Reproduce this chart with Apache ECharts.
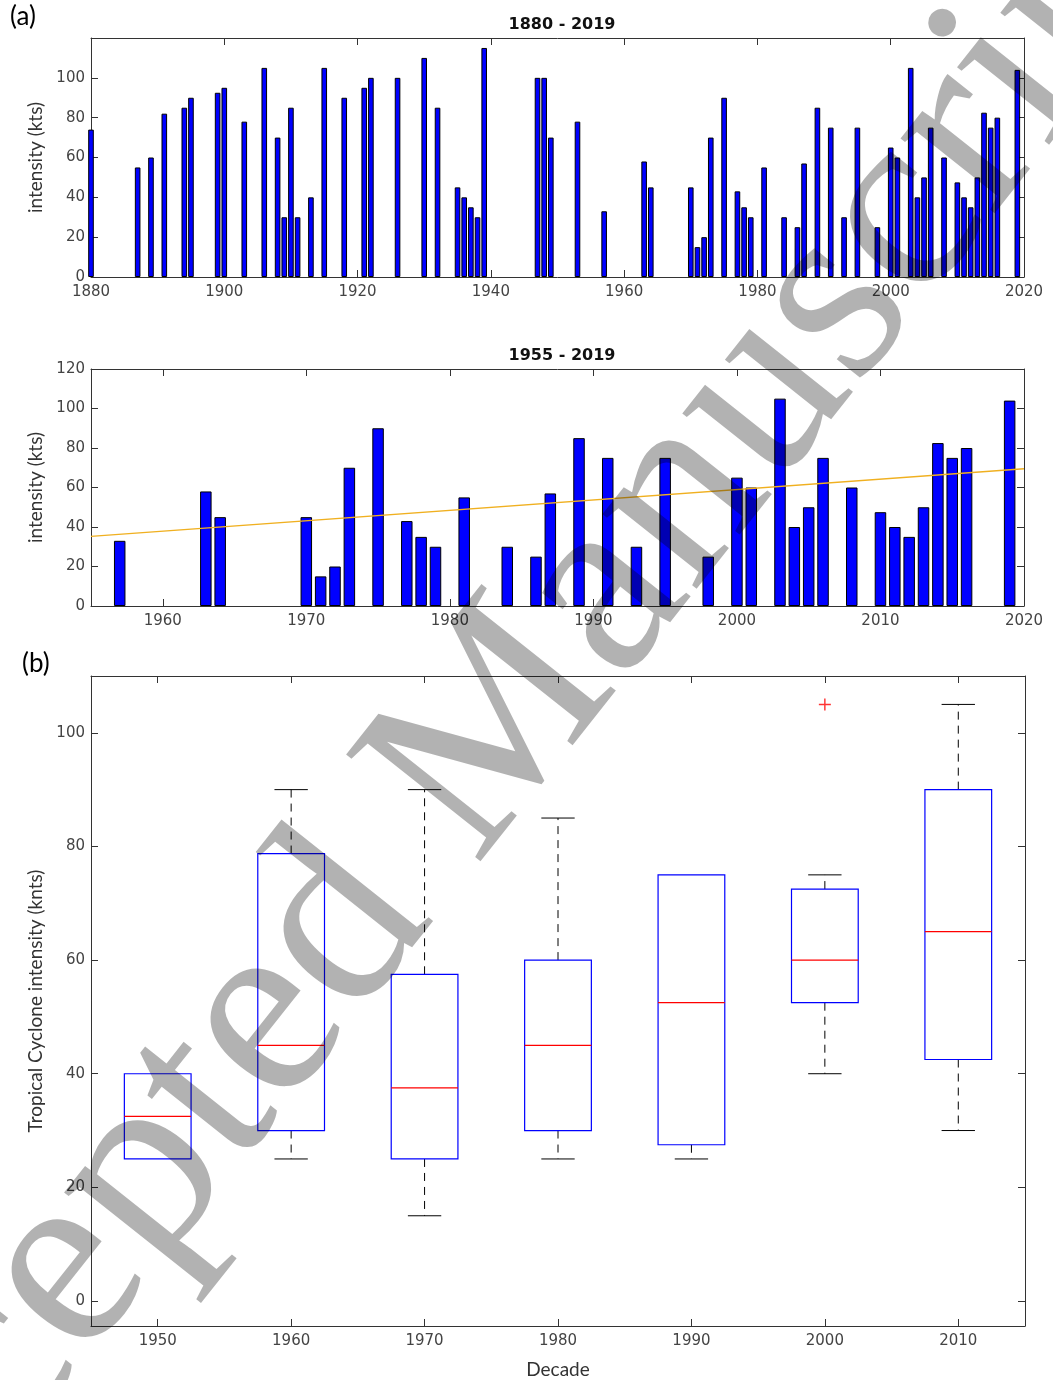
<!DOCTYPE html>
<html>
<head>
<meta charset="utf-8">
<script src="https://cdn.jsdelivr.net/npm/echarts@6/dist/echarts.min.js"></script>
<style>
  html, body { margin: 0; padding: 0; background: #fff; }
  #chart { width: 1053px; height: 1380px; }
</style>
</head>
<body>
<div id="chart"></div>
<script>
// storm years and peak intensity (kts)
var years = [1880, 1887, 1889, 1891, 1894, 1895, 1899, 1900, 1903, 1906, 1908, 1909, 1910, 1911, 1913, 1915, 1918, 1921, 1922, 1926,
  1930, 1932, 1935, 1936, 1937, 1938, 1939, 1947, 1948, 1949, 1953, 1957, 1963, 1964, 1970, 1971, 1972, 1973, 1975,
  1977, 1978, 1979, 1981, 1984, 1986, 1987, 1989, 1991, 1993, 1995, 1998, 2000, 2001, 2003, 2004, 2005, 2006, 2008,
  2010, 2011, 2012, 2013, 2014, 2015, 2016, 2019];
var intensity = [74, 55, 60, 82, 85, 90, 92.5, 95, 78, 105, 70, 30, 85, 30, 40, 105, 90, 95, 100, 100,
  110, 85, 45, 40, 35, 30, 115, 100, 100, 70, 78, 33, 58, 45, 45, 15, 20, 70, 90,
  43, 35, 30, 55, 30, 25, 57, 85, 75, 30, 75, 25, 65, 60, 105, 40, 50, 75, 60,
  47.5, 40, 35, 50, 82.5, 75, 80, 104];
var recentStart = 1955;

// linear trend 1955 - 2019
var trendYears = [1955, 2020];
var trendValues = [35.3, 69.5];

// decade box plot: [low whisker, q1, median, q3, high whisker]
var decades = ['1950', '1960', '1970', '1980', '1990', '2000', '2010'];
var boxStats = [
  [25, 25, 32.5, 40, 40],
  [25, 30, 45, 78.75, 90],
  [15, 25, 37.5, 57.5, 90],
  [25, 30, 45, 60, 85],
  [25, 27.5, 52.5, 75, 75],
  [40, 52.5, 60, 72.5, 75],
  [30, 42.5, 65, 90, 105]
];
var outliers = [['2000', 105]];

var midTicks = [1960, 1970, 1980, 1990, 2000, 2010, 2020];
var boxTicks = [0, 20, 40, 60, 80, 100];

var allBars = years.map(function (y, i) { return [y, intensity[i]]; });
var recentBars = allBars.filter(function (d) { return d[0] >= recentStart; });
var trendData = trendYears.map(function (y, i) { return [y, trendValues[i]]; });
var boxData = boxStats.map(function (s, i) { return [i].concat(s); });

var tickFont = 'DejaVu Sans';
var nameFont = 'Lato';
var axisColor = '#333';
var labelColor = '#444';
var plain = function (v) { return String(v); };

function xAx(grid, opts) {
  var a = {
    gridIndex: grid,
    type: 'value',
    axisLine: { show: true, onZero: false, lineStyle: { color: axisColor, width: 1 } },
    axisTick: { show: true, inside: true, length: 7, lineStyle: { color: axisColor } },
    axisLabel: { color: labelColor, fontFamily: tickFont, fontSize: 15, margin: 8, formatter: plain },
    splitLine: { show: false }
  };
  return Object.assign(a, opts);
}
function yAx(grid, opts) {
  var a = {
    gridIndex: grid,
    type: 'value',
    axisLine: { show: true, onZero: false, lineStyle: { color: axisColor, width: 1 } },
    axisTick: { show: true, inside: true, length: 7, lineStyle: { color: axisColor } },
    axisLabel: { color: labelColor, fontFamily: tickFont, fontSize: 15, margin: 6, formatter: plain },
    splitLine: { show: false },
    nameTextStyle: { color: '#333', fontFamily: nameFont, fontSize: 19 }
  };
  return Object.assign(a, opts);
}

var chart = echarts.init(document.getElementById('chart'));
var option = {
  backgroundColor: '#fff',
  animation: false,
  title: [
    { text: '1880 - 2019', left: 557, top: 12, textAlign: 'center',
      textStyle: { fontFamily: tickFont, fontWeight: 'bold', fontSize: 16, color: '#111' } },
    { text: '1955 - 2019', left: 557, top: 343, textAlign: 'center',
      textStyle: { fontFamily: tickFont, fontWeight: 'bold', fontSize: 16, color: '#111' } }
  ],
  grid: [
    { left: 91, right: 29, top: 38, height: 239 },
    { left: 91, right: 29, top: 369, height: 237 },
    { left: 91, right: 28, top: 676, height: 654 }
  ],
  xAxis: [
    xAx(0, { min: 1880, max: 2020, interval: 20 }),
    xAx(0, { min: 1880, max: 2020, interval: 20, position: 'top', axisLabel: { show: false } }),
    xAx(1, { min: 1955, max: 2020,
      axisTick: { show: true, inside: true, length: 7, lineStyle: { color: axisColor }, customValues: midTicks },
      axisLabel: { color: labelColor, fontFamily: tickFont, fontSize: 15, margin: 8, formatter: plain, customValues: midTicks } }),
    xAx(1, { min: 1955, max: 2020, position: 'top',
      axisTick: { show: true, inside: true, length: 7, lineStyle: { color: axisColor }, customValues: midTicks },
      axisLabel: { show: false } }),
    xAx(2, { type: 'category', data: decades, boundaryGap: true,
      axisTick: { show: true, inside: true, length: 7, alignWithLabel: true, lineStyle: { color: axisColor } },
      name: 'Decade', nameLocation: 'middle', nameGap: 34,
      nameTextStyle: { color: '#333', fontFamily: nameFont, fontSize: 19 } }),
    xAx(2, { type: 'category', data: decades, boundaryGap: true, position: 'top',
      axisTick: { show: true, inside: true, length: 7, alignWithLabel: true, lineStyle: { color: axisColor } },
      axisLabel: { show: false } })
  ],
  yAxis: [
    yAx(0, { min: 0, max: 120, interval: 20, name: 'intensity (kts)', nameLocation: 'middle', nameGap: 42,
      axisLabel: { color: labelColor, fontFamily: tickFont, fontSize: 15, margin: 6, formatter: plain, showMaxLabel: false } }),
    yAx(0, { min: 0, max: 120, interval: 20, position: 'right', axisLabel: { show: false } }),
    yAx(1, { min: 0, max: 120, interval: 20, name: 'intensity (kts)', nameLocation: 'middle', nameGap: 42 }),
    yAx(1, { min: 0, max: 120, interval: 20, position: 'right', axisLabel: { show: false } }),
    yAx(2, { min: -4.4, max: 110, name: 'Tropical Cyclone intensity (knts)', nameLocation: 'middle', nameGap: 45,
      axisTick: { show: true, inside: true, length: 7, lineStyle: { color: axisColor }, customValues: boxTicks },
      axisLabel: { color: labelColor, fontFamily: tickFont, fontSize: 15, margin: 6, formatter: plain, customValues: boxTicks } }),
    yAx(2, { min: -4.4, max: 110, position: 'right',
      axisTick: { show: true, inside: true, length: 7, lineStyle: { color: axisColor }, customValues: boxTicks },
      axisLabel: { show: false } })
  ],
  series: [
    {
      type: 'bar', xAxisIndex: 0, yAxisIndex: 0, data: allBars, barWidth: 5.6,
      itemStyle: { color: '#0000ff', borderColor: '#000', borderWidth: 1 }
    },
    {
      type: 'bar', xAxisIndex: 2, yAxisIndex: 2, data: recentBars, barWidth: 11.5,
      itemStyle: { color: '#0000ff', borderColor: '#000', borderWidth: 1 }
    },
    {
      type: 'line', xAxisIndex: 2, yAxisIndex: 2, data: trendData, symbol: 'none',
      lineStyle: { color: '#f0b020', width: 1.3 }, z: 5
    },
    {
      type: 'custom', xAxisIndex: 4, yAxisIndex: 4, data: boxData,
      renderItem: function (params, api) {
        var i = api.value(0);
        var lo = api.coord([i, api.value(1)]);
        var q1 = api.coord([i, api.value(2)]);
        var md = api.coord([i, api.value(3)]);
        var q3 = api.coord([i, api.value(4)]);
        var hi = api.coord([i, api.value(5)]);
        var bw = api.size([1, 0])[0] * 0.5;
        var cx = lo[0];
        var dash = { stroke: '#000', lineWidth: 1, lineDash: [8, 6] };
        var solid = { stroke: '#000', lineWidth: 1 };
        var kids = [];
        // whiskers (skip when they collapse onto the box edge)
        if (api.value(5) > api.value(4)) {
          kids.push({ type: 'line', shape: { x1: cx, y1: q3[1], x2: cx, y2: hi[1] }, style: dash });
          kids.push({ type: 'line', shape: { x1: cx - bw / 4, y1: hi[1], x2: cx + bw / 4, y2: hi[1] }, style: solid });
        }
        if (api.value(1) < api.value(2)) {
          kids.push({ type: 'line', shape: { x1: cx, y1: q1[1], x2: cx, y2: lo[1] }, style: dash });
          kids.push({ type: 'line', shape: { x1: cx - bw / 4, y1: lo[1], x2: cx + bw / 4, y2: lo[1] }, style: solid });
        }
        kids.push({ type: 'rect', shape: { x: cx - bw / 2, y: q3[1], width: bw, height: q1[1] - q3[1] },
          style: { fill: 'none', stroke: '#0000ff', lineWidth: 1.2 } });
        kids.push({ type: 'line', shape: { x1: cx - bw / 2, y1: md[1], x2: cx + bw / 2, y2: md[1] },
          style: { stroke: '#ff0000', lineWidth: 1.2 } });
        return { type: 'group', children: kids };
      }
    },
    {
      type: 'scatter', xAxisIndex: 4, yAxisIndex: 4, data: outliers,
      symbol: 'path://M4.4,0h1.2v4.4h4.4v1.2h-4.4v4.4h-1.2v-4.4h-4.4v-1.2h4.4z', symbolSize: 12,
      itemStyle: { color: '#ff0000' }
    }
  ],
  graphic: [
    { type: 'text', left: 10, top: 4,
      style: { text: '(a)', font: '26px Lato', fill: '#000' } },
    { type: 'text', left: 22, top: 651,
      style: { text: '(b)', font: '26px Lato', fill: '#000' } },
    { type: 'text', x: 465, y: 770, rotation: 0.9, z: 100,
      style: { text: 'Accepted Manuscript', font: '262px "Liberation Serif"', fill: 'rgba(0,0,0,0.3)',
        textAlign: 'center', textVerticalAlign: 'middle' } }
  ]
};
chart.setOption(option);
</script>
</body>
</html>
